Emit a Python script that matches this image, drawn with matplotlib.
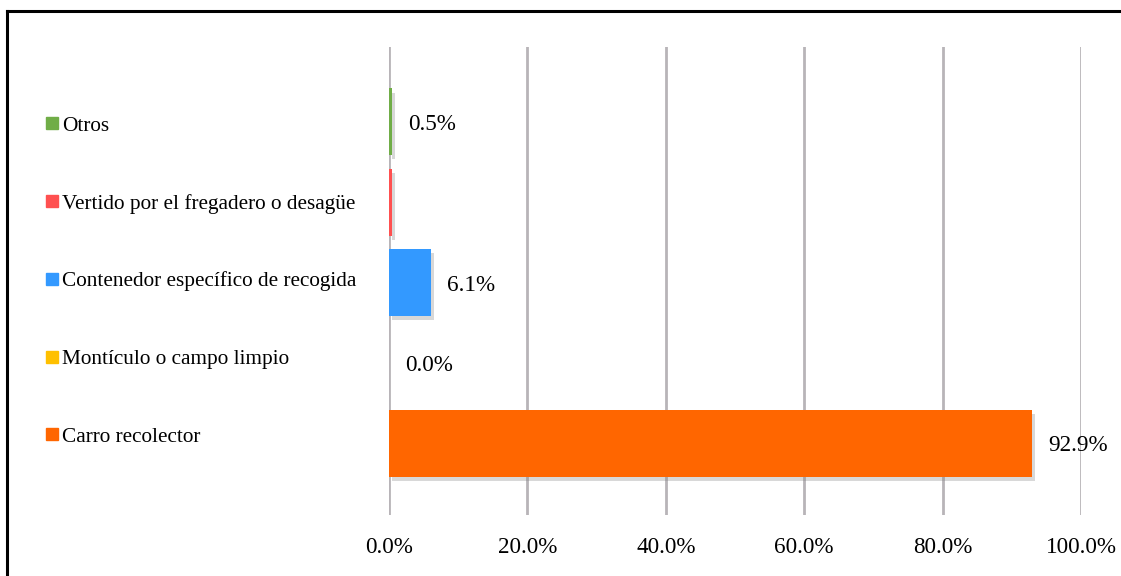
import numpy as np
import matplotlib
matplotlib.use('Agg')
import matplotlib.pyplot as plt
import matplotlib.patheffects as pe
from matplotlib.lines import Line2D

plt.rcParams['font.family'] = ['Liberation Serif', 'DejaVu Serif']

# Data (bottom to top)
categories = ['Carro recolector', 'Montículo o campo limpio',
              'Contenedor específico de recogida',
              'Vertido por el fregadero o desagüe', 'Otros']
values = [92.9, 0.0, 6.1, 0.5, 0.5]
value_labels = ['92.9%', '0.0%', '6.1%', '', '0.5%']
colors = ['#FF6600', '#FFC000', '#3399FF', '#FF5050', '#70AD47']
xticks = [0, 20, 40, 60, 80, 100]
xtick_labels = ['0.0%', '20.0%', '40.0%', '60.0%', '80.0%', '100.0%']

fig = plt.figure(figsize=(11.21, 5.76), dpi=100)
ax = fig.add_axes([389/1121, 1 - 515/576, (1081 - 389)/1121, (515 - 47)/576])

y = np.arange(len(categories))
shadow = [pe.SimplePatchShadow(offset=(2, -3), shadow_rgbFace='#808080', alpha=0.3), pe.Normal()]
bars = ax.barh(y, values, height=0.83, color=colors, zorder=3)
for b in bars:
    b.set_path_effects(shadow)

for yi, v, lab in zip(y, values, value_labels):
    if lab:
        ax.text(v + 2.3, yi - 0.03, lab, va='center', ha='left', fontsize=16.7)

ax.set_xlim(0, 100)
ax.set_ylim(-0.89, 4.93)
ax.set_xticks(xticks)
ax.set_xticklabels(xtick_labels, fontsize=16.7)
ax.set_yticks([])
ax.tick_params(axis='x', length=0, pad=16)
ax.grid(axis='x', color='#B8B4B8', lw=2, zorder=0)
for s in ax.spines.values():
    s.set_visible(False)

# legend-like category labels on the left
handles = [Line2D([], [], ls='none', marker='s', markersize=8, color=c) for c in colors[::-1]]
fig.legend(handles, categories[::-1], loc='upper left', bbox_to_anchor=(46/1121, 1 - 116/576),
           frameon=False, fontsize=15.3, handlelength=0.6, handletextpad=0.15,
           labelspacing=2.72, borderaxespad=0, borderpad=0)

# outer frame (left and top edges visible)
fig.add_artist(Line2D([7/1121, 7/1121], [0, 1 - 11/576], color='black', lw=2.2))
fig.add_artist(Line2D([7/1121, 1], [1 - 11/576, 1 - 11/576], color='black', lw=2.2))

fig.savefig('out.png', dpi=100)
